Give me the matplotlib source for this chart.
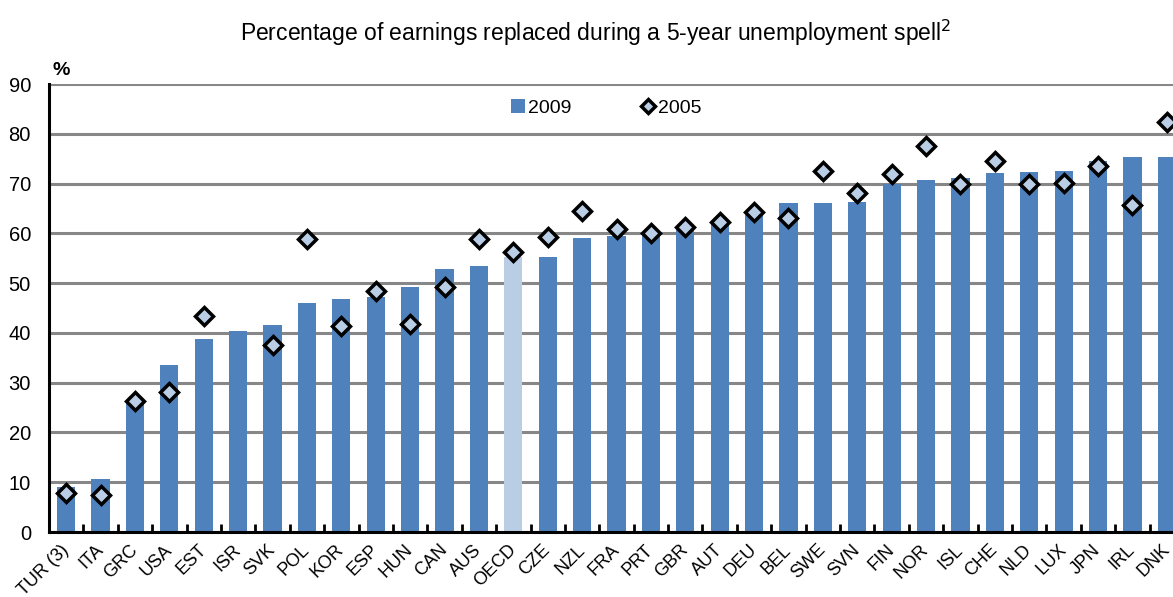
import numpy as np
import matplotlib
matplotlib.use("Agg")
import matplotlib.pyplot as plt
from matplotlib.ticker import FixedLocator

plt.rcParams['font.family'] = ['Liberation Sans', 'DejaVu Sans']

countries = ['TUR (3)', 'ITA', 'GRC', 'USA', 'EST', 'ISR', 'SVK', 'POL', 'KOR', 'ESP',
             'HUN', 'CAN', 'AUS', 'OECD', 'CZE', 'NZL', 'FRA', 'PRT', 'GBR', 'AUT',
             'DEU', 'BEL', 'SWE', 'SVN', 'FIN', 'NOR', 'ISL', 'CHE', 'NLD', 'LUX',
             'JPN', 'IRL', 'DNK']
val_2009 = [9.1, 10.6, 26.4, 33.5, 38.8, 40.4, 41.5, 46.1, 46.8, 47.3,
            49.2, 52.8, 53.5, 55.3, 55.3, 59.1, 59.4, 60.3, 61.4, 61.8,
            63.7, 66.0, 66.0, 66.2, 69.9, 70.7, 71.2, 72.1, 72.4, 72.5,
            74.6, 75.4, 75.4]
# None = no 2005 value
val_2005 = [7.8, 7.4, 26.3, 28.1, 43.4, None, 37.5, 58.8, 41.4, 48.5,
            41.8, 49.3, 58.9, 56.2, 59.2, 64.5, 60.8, 60.1, 61.3, 62.3,
            64.3, 63.1, 72.5, 68.1, 71.9, 77.5, 70.0, 74.6, 70.0, 70.2,
            73.5, 65.7, 82.3]

bar_color = '#4F81BD'
light = '#B9CDE5'

fig = plt.figure(figsize=(11.73, 5.97), dpi=100)
ax = fig.add_axes([49 / 1173, 65 / 597, 1135 / 1173, 448 / 597])

x = np.arange(len(countries))
colors = [light if c == 'OECD' else bar_color for c in countries]
bars = ax.bar(x, val_2009, width=0.53, color=colors, zorder=2, label='2009')

y05 = np.array([np.nan if v is None else v for v in val_2005], dtype=float)
pts, = ax.plot(x, y05, linestyle='none', marker='D', markersize=9, markerfacecolor=light,
               markeredgecolor='black', markeredgewidth=2.5, zorder=3, label='2005')

ax.set_xlim(-0.5, len(countries) - 0.5)
ax.set_ylim(0, 90)
ax.set_yticks(range(0, 91, 10))
ax.yaxis.grid(True, color='#878787', linewidth=2.2, zorder=0)
ax.set_axisbelow(True)

for s in ['top', 'right']:
    ax.spines[s].set_visible(False)
for s in ['left', 'bottom']:
    ax.spines[s].set_linewidth(2.2)
    ax.spines[s].set_color('black')
    ax.spines[s].set_zorder(4)

ax.set_xticks(x)
ax.set_xticklabels(countries, rotation=45, ha='right', va='center',
                   rotation_mode='anchor', fontsize=13)
ax.tick_params(axis='x', which='major', length=0, pad=11)
ax.xaxis.set_minor_locator(FixedLocator(np.arange(0.5, len(countries) - 0.5, 1)))
ax.tick_params(axis='x', which='minor', direction='in', length=6, width=2, color='black')
ax.tick_params(axis='y', length=0, labelsize=14.5, pad=13)

ax.text(0.003, 1.012, '%', transform=ax.transAxes, fontsize=14, fontweight='bold',
        ha='left', va='bottom')

fig.text(596 / 1173, 1 - 33 / 597,
         'Percentage of earnings replaced during a 5-year unemployment spell$^2$',
         ha='center', va='center', fontsize=16.5)

ax.legend([bars, pts], ['2009', '2005'], loc='center', bbox_to_anchor=(0.491, 0.946),
          ncol=2, frameon=False, fontsize=14, handlelength=0.7, handletextpad=0.15,
          columnspacing=3.6, markerscale=0.8)

fig.savefig('out.png', dpi=100)
